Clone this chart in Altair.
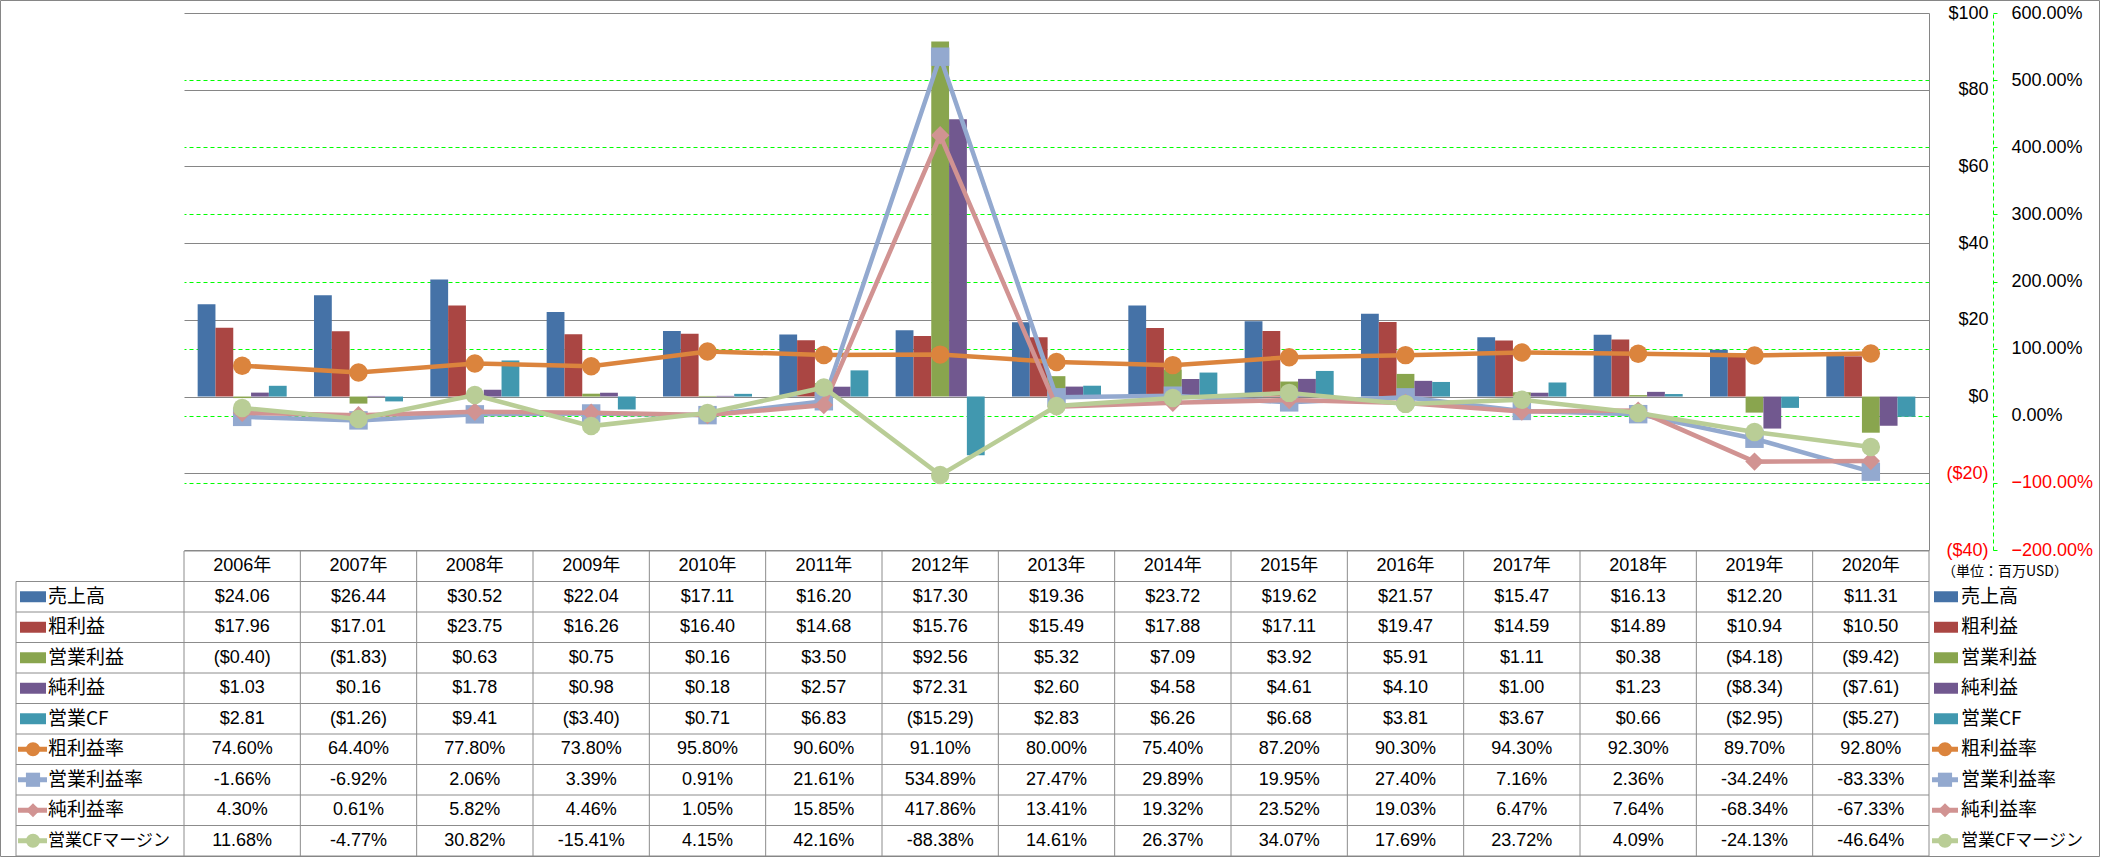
import altair as alt
import pandas as pd

# ---------------- data ----------------
years = ["2006年", "2007年", "2008年", "2009年", "2010年", "2011年", "2012年", "2013年",
         "2014年", "2015年", "2016年", "2017年", "2018年", "2019年", "2020年"]

sales = [24.06, 26.44, 30.52, 22.04, 17.11, 16.20, 17.30, 19.36, 23.72, 19.62, 21.57, 15.47, 16.13, 12.20, 11.31]
gross = [17.96, 17.01, 23.75, 16.26, 16.40, 14.68, 15.76, 15.49, 17.88, 17.11, 19.47, 14.59, 14.89, 10.94, 10.50]
op_income = [-0.40, -1.83, 0.63, 0.75, 0.16, 3.50, 92.56, 5.32, 7.09, 3.92, 5.91, 1.11, 0.38, -4.18, -9.42]
net_income = [1.03, 0.16, 1.78, 0.98, 0.18, 2.57, 72.31, 2.60, 4.58, 4.61, 4.10, 1.00, 1.23, -8.34, -7.61]
op_cf = [2.81, -1.26, 9.41, -3.40, 0.71, 6.83, -15.29, 2.83, 6.26, 6.68, 3.81, 3.67, 0.66, -2.95, -5.27]

gross_margin = [74.60, 64.40, 77.80, 73.80, 95.80, 90.60, 91.10, 80.00, 75.40, 87.20, 90.30, 94.30, 92.30, 89.70, 92.80]
op_margin = [-1.66, -6.92, 2.06, 3.39, 0.91, 21.61, 534.89, 27.47, 29.89, 19.95, 27.40, 7.16, 2.36, -34.24, -83.33]
net_margin = [4.30, 0.61, 5.82, 4.46, 1.05, 15.85, 417.86, 13.41, 19.32, 23.52, 19.03, 6.47, 7.64, -68.34, -67.33]
cf_margin = [11.68, -4.77, 30.82, -15.41, 4.15, 42.16, -88.38, 14.61, 26.37, 34.07, 17.69, 23.72, 4.09, -24.13, -46.64]

bar_names = ["売上高", "粗利益", "営業利益", "純利益", "営業CF"]
line_names = ["粗利益率", "営業利益率", "純利益率", "営業CFマージン"]
usd_ticks = [-40, -20, 0, 20, 40, 60, 80, 100]
pct_ticks = [-200, -100, 0, 100, 200, 300, 400, 500, 600]
unit_label = "（単位：百万USD）"

bar_values = [sales, gross, op_income, net_income, op_cf]
line_values = [gross_margin, op_margin, net_margin, cf_margin]
names = bar_names + line_names
colors = ["#4572A7", "#AA4643", "#89A54E", "#71588F", "#4198AF",
          "#DB843D", "#93A9CF", "#D19392", "#B9CD96"]
shapes = ["circle", "square", "diamond", "circle"]

# ---------------- layout ----------------
W, H = 1745, 537
PAD = {"left": 184, "top": 13, "right": 172, "bottom": 308}
COL = W / 15.0
LEG = 168 / COL
NUM_FONT = "Liberation Sans"
CJK_FONT = "Noto Sans CJK JP"
GRID_GRAY = "#868686"
TABLE_GRAY = "#8C8C8C"
GREEN = "#00FF00"

color_enc = alt.Color("series:N", scale=alt.Scale(domain=names, range=colors), legend=None)
shape_enc = alt.Shape("series:N", scale=alt.Scale(domain=line_names, range=shapes), legend=None)
x_band = alt.X("year:N", sort=years,
               scale=alt.Scale(domain=years, paddingInner=0, paddingOuter=0), axis=None)

neg_red = {"condition": {"test": "datum.value < 0", "value": "#FF0000"}, "value": "#000000"}

usd_axis = alt.Axis(
    orient="right", values=usd_ticks, title=None,
    grid=True, gridColor=GRID_GRAY, gridWidth=1,
    domain=True, domainColor=GRID_GRAY, domainWidth=1,
    ticks=False, tickSize=0,
    labelPadding=59, labelAlign="right", labelFont=NUM_FONT, labelFontSize=18,
    labelColor=neg_red, labelFlush=False, labelOverlap=False,
    labelExpr="datum.value < 0 ? '($' + (-datum.value) + ')' : '$' + datum.value",
)
pct_axis = alt.Axis(
    orient="right", offset=64, values=pct_ticks, title=None,
    grid=True, gridColor=GREEN, gridDash=[4, 3], gridWidth=1,
    gridOpacity={"condition": {"test": "datum.value >= 600 || datum.value <= -200", "value": 0}, "value": 1},
    domain=True, domainColor=GREEN, domainDash=[4, 3], domainWidth=1,
    ticks=True, tickColor=GREEN, tickSize=4, tickWidth=1,
    labelPadding=14, labelAlign="left", labelFont=NUM_FONT, labelFontSize=18,
    labelColor=neg_red, labelFlush=False, labelOverlap=False,
    labelExpr="format(datum.value, '.2f') + '%'",
)
usd_scale = alt.Scale(domain=[-40, 100], nice=False, zero=False)
pct_scale = alt.Scale(domain=[-200, 600], nice=False, zero=False)

# ---------------- plot ----------------
bar_df = pd.DataFrame([{"year": y, "series": s, "value": v}
                       for s, vals in zip(bar_names, bar_values)
                       for y, v in zip(years, vals)])
bars = alt.Chart(bar_df).mark_bar().encode(
    x=x_band,
    xOffset=alt.XOffset("series:N", sort=bar_names,
                        scale=alt.Scale(domain=bar_names, paddingInner=0, paddingOuter=0.767)),
    y=alt.Y("value:Q", scale=usd_scale, axis=usd_axis),
    color=color_enc,
)

line_layers = []
for s, vals in zip(line_names, line_values):
    df = pd.DataFrame({"year": years, "series": s, "value": vals})
    base = alt.Chart(df).encode(
        x=x_band,
        y=alt.Y("value:Q", scale=pct_scale, axis=pct_axis),
        color=color_enc,
    )
    line_layers.append(base.mark_line(strokeWidth=4.5))
    line_layers.append(base.mark_point(filled=True, opacity=1, size=340).encode(shape=shape_enc))

lines = alt.layer(*line_layers)
plot = alt.layer(bars, lines).resolve_scale(y="independent")

# ---------------- table ----------------
tx = alt.Scale(domain=[0, 15], nice=False, zero=False)
ty = alt.Scale(domain=[0, 10], range=[538, 843], nice=False, zero=False)


def money(v):
    return f"(${abs(v):.2f})" if v < 0 else f"${v:.2f}"


def pct(v):
    return f"{v:.2f}%"


cell_rows = []
for i, y in enumerate(years):
    cell_rows.append({"col": i, "row": 0, "text": y})
for r, vals in enumerate(bar_values, start=1):
    for i, v in enumerate(vals):
        cell_rows.append({"col": i, "row": r, "text": money(v)})
for r, vals in enumerate(line_values, start=len(bar_values) + 1):
    for i, v in enumerate(vals):
        cell_rows.append({"col": i, "row": r, "text": pct(v)})
cell_df = pd.DataFrame(cell_rows)

cells = alt.Chart(cell_df).transform_calculate(
    xc="datum.col + 0.5", yc="datum.row + 0.5"
).mark_text(align="center", baseline="middle", font=f"{NUM_FONT}, {CJK_FONT}",
            fontSize=18, color="#000000").encode(
    x=alt.X("xc:Q", scale=tx, axis=None),
    y=alt.Y("yc:Q", scale=ty, axis=None),
    text="text:N",
)

# grid lines of the table (column / row indices)
seg = []
seg.append({"x": 0, "x2": 15, "y": 0, "y2": 0})
for r in range(1, 11):
    seg.append({"x": -LEG, "x2": 15, "y": r, "y2": r})
for c in range(0, 16):
    seg.append({"x": c, "x2": c, "y": 0, "y2": 10})
seg.append({"x": -LEG, "x2": -LEG, "y": 1, "y2": 10})
seg_df = pd.DataFrame(seg)
table_lines = alt.Chart(seg_df).mark_rule(color=TABLE_GRAY, strokeWidth=1).encode(
    x=alt.X("x:Q", scale=tx, axis=None), x2="x2:Q",
    y=alt.Y("y:Q", scale=ty, axis=None), y2="y2:Q",
)

legend_df = pd.DataFrame({"series": names, "row": list(range(1, 10)),
                          "kind": ["bar"] * len(bar_names) + ["line"] * len(line_names)})


def legend_layers(sw0, sw1, ln0, ln1, mk, txt):
    base = alt.Chart(legend_df)
    sw = base.transform_filter("datum.kind == 'bar'").transform_calculate(
        x0=str(sw0), x1=str(sw1), y0="datum.row + 0.32", y1="datum.row + 0.68"
    ).mark_rect().encode(
        x=alt.X("x0:Q", scale=tx, axis=None), x2="x1:Q",
        y=alt.Y("y0:Q", scale=ty, axis=None), y2="y1:Q",
        color=color_enc,
    )
    ln = base.transform_filter("datum.kind == 'line'").transform_calculate(
        x0=str(ln0), x1=str(ln1), yc="datum.row + 0.5"
    ).mark_rule(strokeWidth=5).encode(
        x=alt.X("x0:Q", scale=tx, axis=None), x2="x1:Q",
        y=alt.Y("yc:Q", scale=ty, axis=None),
        color=color_enc,
    )
    pt = base.transform_filter("datum.kind == 'line'").transform_calculate(
        xm=str(mk), yc="datum.row + 0.5"
    ).mark_point(filled=True, opacity=1, size=200).encode(
        x=alt.X("xm:Q", scale=tx, axis=None),
        y=alt.Y("yc:Q", scale=ty, axis=None),
        color=color_enc, shape=shape_enc,
    )
    tt = base.transform_calculate(
        xt=str(txt), yc="datum.row + 0.5",
        fs="datum.series == '営業CFマージン' ? 17 : 19"
    ).mark_text(align="left", baseline="middle", font=CJK_FONT, color="#000000").encode(
        x=alt.X("xt:Q", scale=tx, axis=None),
        y=alt.Y("yc:Q", scale=ty, axis=None),
        text="series:N",
        size=alt.Size("fs:Q", scale=None, legend=None),
    )
    return [sw, ln, pt, tt]


left_legend = legend_layers(-164 / COL, -138 / COL, -166 / COL, -137 / COL, -151 / COL, -136 / COL)
right_legend = legend_layers(15 + 5 / COL, 15 + 29 / COL, 15 + 3 / COL, 15 + 29 / COL, 15 + 16 / COL, 15 + 32 / COL)

unit = alt.Chart(pd.DataFrame({"label": [unit_label]})).transform_calculate(
    xt=str(15 + 76 / COL), yc="0.68"
).mark_text(align="center", baseline="middle", font=CJK_FONT, fontSize=14, color="#000000").encode(
    x=alt.X("xt:Q", scale=tx, axis=None),
    y=alt.Y("yc:Q", scale=ty, axis=None),
    text="label:N",
)

frame = alt.Chart(pd.DataFrame({"k": [0]})).mark_rect(
    fill=None, stroke=GRID_GRAY, strokeWidth=1
).encode(
    x=alt.value(-183.5), x2=alt.value(1915.5), y=alt.value(-12.5), y2=alt.value(843.5)
)

table = alt.layer(table_lines, cells, *left_legend, *right_legend, unit, frame)

chart = alt.layer(plot, table).resolve_scale(
    x="independent", y="independent"
).properties(
    width=W, height=H, padding=PAD, autosize=alt.AutoSizeParams(type="none"),
    background="#FFFFFF",
).configure_view(stroke=None)

chart.save("out.html", embed_options={"renderer": "svg", "actions": False})
